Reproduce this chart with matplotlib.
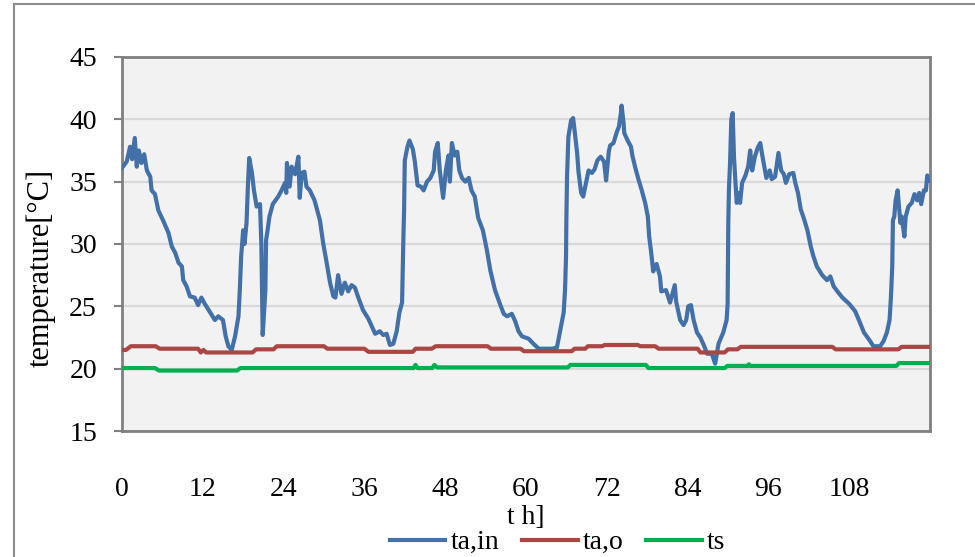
import matplotlib.pyplot as plt
import numpy as np

plt.rcParams['font.family'] = ['Liberation Serif', 'DejaVu Serif']

# indoor air temperature ta,in  (hour, degC)
t_in = [0, 0.7, 1.2, 1.5, 1.9, 2.2, 2.5, 2.9, 3.3, 3.7, 4.2, 4.4, 4.9, 5.4, 6.1, 6.9, 7.4,
        7.9, 8.4, 8.9, 9.1, 9.6, 10.1, 10.8, 11.3, 11.8, 12.3, 13.0, 13.8, 14.3, 15.0,
        15.4, 15.8, 16.3, 16.8, 17.3, 17.5, 17.7, 18.0, 18.2, 18.5, 18.7, 18.9, 19.3,
        19.6, 20.0, 20.5, 20.7, 20.9, 21.3, 21.4, 21.6, 21.9, 22.4, 23.2, 23.7, 24.2,
        24.4, 24.5, 24.9, 25.2, 25.7, 26.2, 26.4, 26.7, 27.1, 27.4, 27.9, 28.6, 29.4,
        29.9, 30.4, 30.9, 31.4, 31.7, 32.1, 32.6, 33.1, 33.6, 34.1, 34.6, 35.1, 35.8,
        36.6, 37.1, 37.6, 38.3, 38.8, 39.3, 39.8, 40.3, 40.8, 41.2, 41.6, 41.8, 41.9,
        42.0, 42.4, 42.7, 43.2, 43.5, 43.9, 44.4, 44.8, 45.3, 45.8, 46.3, 46.5, 46.9,
        47.2, 47.7, 48.1, 48.5, 48.7, 49.0, 49.4, 49.8, 50.1, 50.5, 51.0, 51.5, 51.9,
        52.4, 52.9, 53.6, 54.2, 54.7, 55.4, 56.2, 56.7, 57.2, 57.9, 58.4, 58.9, 59.4,
        60.4, 61.1, 61.9, 62.9, 63.9, 64.6, 65.1, 65.6, 65.8, 65.95, 66.0, 66.1, 66.3,
        66.7, 67.0, 67.2, 67.6, 67.8, 68.2, 68.5, 68.8, 69.3, 69.8, 70.2, 70.6, 71.1,
        71.6, 71.9, 72.3, 72.5, 73.0, 73.5, 73.8, 74.1, 74.2, 74.5, 74.6, 75.1, 75.6,
        75.8, 76.2, 76.7, 77.2, 77.7, 78.1, 78.3, 78.6, 78.9, 79.4, 79.9, 80.1, 80.8,
        81.4, 81.9, 82.1, 82.3, 82.9, 83.4, 83.8, 84.1, 84.5, 84.9, 85.4, 85.9, 86.4,
        86.9, 87.6, 88.1, 88.6, 89.3, 89.8, 89.95, 90.05, 90.15, 90.3, 90.5, 90.7, 90.9,
        91.3, 91.6, 91.8, 92.1, 92.6, 93.0, 93.3, 93.6, 94.0, 94.4, 94.8, 95.1, 95.4,
        95.7, 96.2, 96.5, 97.0, 97.5, 97.9, 98.3, 98.6, 99.1, 99.7, 100.0, 100.4, 100.8,
        101.3, 101.8, 102.3, 102.7, 103.2, 104.0, 104.7, 105.2, 105.7, 106.4, 107.0,
        108.0, 108.9, 109.6, 110.2, 111.0, 111.6, 112.6, 113.1, 113.6, 114.0, 114.2,
        114.4, 114.5, 114.7, 114.9, 115.2, 115.6, 115.8, 116.2, 116.4, 116.8, 117.3,
        117.7, 118.1, 118.4, 118.7, 119.1, 119.4, 119.6, 120.0]
v_in = [36.1, 36.6, 37.8, 36.8, 38.5, 36.2, 37.5, 36.5, 37.2, 35.9, 35.4, 34.3, 34.0, 32.7,
        31.9, 30.9, 29.8, 29.3, 28.5, 28.2, 27.1, 26.6, 25.8, 25.7, 25.1, 25.7, 25.2,
        24.6, 23.9, 24.2, 23.9, 22.6, 21.8, 21.5, 22.6, 24.2, 26.3, 29.0, 31.1, 30.0,
        31.7, 34.6, 36.9, 35.7, 34.3, 33.0, 33.2, 30.0, 22.7, 26.3, 30.3, 31.0, 32.2,
        33.2, 33.8, 34.3, 34.9, 34.1, 36.5, 34.6, 36.2, 35.6, 37.0, 33.7, 35.7, 35.8,
        34.6, 34.3, 33.5, 31.9, 30.0, 28.5, 26.9, 25.8, 25.7, 27.5, 26.0, 26.9, 26.2,
        26.7, 26.5, 25.7, 24.7, 24.0, 23.4, 22.8, 23.0, 22.7, 22.8, 21.9, 22.0, 23.0,
        24.5, 25.3, 30.6, 32.7, 36.7, 37.8, 38.3, 37.6, 36.6, 34.7, 34.6, 34.3, 35.0,
        35.3, 35.9, 37.4, 38.1, 35.9, 33.7, 35.9, 37.1, 35.0, 38.1, 37.1, 37.4, 35.9,
        35.3, 35.0, 35.3, 34.3, 33.8, 32.1, 31.1, 29.5, 27.9, 26.3, 25.1, 24.4, 24.2,
        24.4, 23.8, 23.0, 22.6, 22.4, 22.0, 21.6, 21.6, 21.6, 21.7, 23.1, 24.5, 26.3,
        29.0, 31.9, 35.4, 38.6, 39.9, 40.1, 39.2, 37.3, 35.8, 34.1, 33.8, 34.6, 35.9,
        35.7, 36.0, 36.7, 37.0, 36.6, 35.1, 37.4, 37.9, 38.1, 39.0, 39.4, 40.5, 41.1,
        39.7, 38.9, 38.3, 37.8, 37.1, 36.2, 35.2, 34.3, 33.3, 32.2, 30.6, 29.3, 27.8,
        28.4, 27.4, 26.2, 26.3, 25.3, 26.3, 26.7, 25.4, 23.9, 23.5, 23.9, 25.0, 25.1,
        23.9, 22.9, 22.5, 21.9, 21.2, 21.2, 20.4, 22.0, 22.9, 23.9, 25.2, 31.7, 34.5,
        36.3, 40.0, 40.5, 36.9, 33.3, 34.1, 33.3, 34.9, 35.5, 36.2, 37.5, 35.9, 37.0,
        37.7, 38.1, 37.1, 36.2, 35.3, 35.9, 35.2, 35.4, 37.3, 35.9, 35.6, 34.9, 35.6,
        35.7, 34.9, 34.1, 32.8, 32.0, 31.1, 29.8, 29.0, 28.2, 27.5, 27.1, 27.4, 26.6,
        26.1, 25.7, 25.2, 24.6, 23.7, 22.9, 22.3, 21.8, 21.8, 22.2, 22.9, 23.9, 25.7,
        28.2, 31.9, 32.2, 33.5, 34.3, 31.7, 32.2, 30.6, 32.2, 33.0, 33.3, 34.0, 33.5,
        34.1, 33.2, 34.3, 34.3, 35.5, 35.1]

# outdoor-side air temperature ta,o (step changes)
t_o = [0, 0.6, 1.3, 5.0, 5.6, 11.3, 11.7, 12.1, 12.5, 12.9, 19.4, 19.9, 22.5, 23.0, 30.0,
       30.5, 36.0, 36.6, 43.2, 43.6, 46.0, 46.6, 54.3, 54.8, 59.2, 59.7, 66.8, 67.2,
       68.8, 69.2, 71.3, 71.7, 76.6, 77.0, 79.2, 79.7, 85.5, 85.9, 89.5, 90.0, 91.4,
       91.9, 105.5, 106.0, 115.3, 115.8, 120.0]
v_o = [21.5, 21.5, 21.8, 21.8, 21.6, 21.6, 21.3, 21.5, 21.3, 21.3, 21.3, 21.55, 21.55,
       21.8, 21.8, 21.6, 21.6, 21.35, 21.35, 21.6, 21.6, 21.8, 21.8, 21.6, 21.6, 21.4,
       21.4, 21.6, 21.6, 21.8, 21.8, 21.9, 21.9, 21.8, 21.8, 21.6, 21.6, 21.3, 21.3,
       21.55, 21.55, 21.75, 21.75, 21.55, 21.55, 21.75, 21.75]

# surface temperature ts
t_s = [0, 4.9, 5.5, 17.1, 17.6, 43.3, 43.6, 43.9, 46.1, 46.4, 46.8, 66.2, 66.6, 77.8,
       78.2, 89.5, 89.9, 92.9, 93.1, 93.3, 115.0, 115.4, 120.0]
v_s = [20.05, 20.05, 19.85, 19.85, 20.05, 20.05, 20.3, 20.05, 20.05, 20.3, 20.1, 20.1,
       20.3, 20.3, 20.05, 20.05, 20.22, 20.22, 20.35, 20.22, 20.22, 20.45, 20.45]

x_ticks = [0, 12, 24, 36, 48, 60, 72, 84, 96, 108]
y_ticks = [15, 20, 25, 30, 35, 40, 45]

fig = plt.figure(figsize=(9.75, 5.57), dpi=100)
ax = fig.add_axes([0.1251, 0.2262, 0.8287, 0.6715])
ax.set_facecolor('#F2F2F2')

ax.plot(t_in, v_in, color='#4470A8', lw=3.0, solid_joinstyle='round', label='ta,in', zorder=3)
ax.plot(t_o, v_o, color='#AA4643', lw=3.0, solid_joinstyle='round', label='ta,o', zorder=3)
ax.plot(t_s, v_s, color='#00B050', lw=3.0, solid_joinstyle='round', label='ts', zorder=3)

ax.set_xlim(0, 120)
ax.set_ylim(15, 45)
ax.set_xticks(x_ticks)
ax.set_yticks(y_ticks)
ax.yaxis.grid(True, color='#D9D9D9', lw=1.6)
ax.set_axisbelow(True)
for s in ax.spines.values():
    s.set_color('#808080')
    s.set_linewidth(2.0)
ax.tick_params(axis='x', length=0, pad=33, labelsize=20)
ax.tick_params(axis='y', length=6, width=1.5, color='#808080', pad=12, labelsize=20)

ax.set_xlabel('t h]', fontsize=20, labelpad=2)
ax.set_ylabel('temperature[°C]', fontsize=22)
ax.yaxis.set_label_coords(-0.082, 0.436)

fig.legend(loc='center', bbox_to_anchor=(0.572, 0.026), ncol=3, frameon=False,
           fontsize=20, handlelength=2.0, handletextpad=0.2, columnspacing=0.8)

# outer frame of the picture
fig.add_artist(plt.Rectangle((0.0144, -0.1), 1.2, 1.093, transform=fig.transFigure,
                             fill=False, edgecolor='#8C8C8C', lw=1.5))

fig.savefig('out.png', dpi=100)
